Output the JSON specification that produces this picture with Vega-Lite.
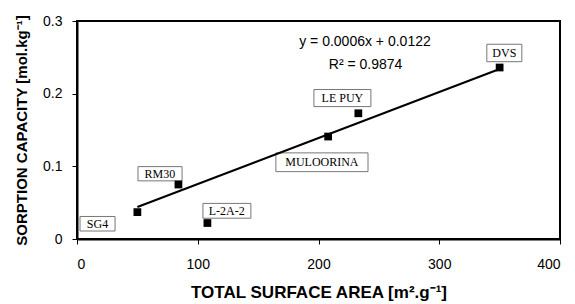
{
  "$schema": "https://vega.github.io/schema/vega-lite/v6.json",
  "width": 483,
  "height": 218,
  "autosize": "none",
  "padding": {"left": 77, "top": 21, "right": 15, "bottom": 65},
  "background": "white",
  "config": {
    "view": {"stroke": "black", "strokeWidth": 2},
    "axis": {
      "grid": false,
      "domainColor": "black",
      "domainWidth": 2,
      "tickColor": "black",
      "tickSize": 5,
      "labelFont": "Liberation Sans",
      "labelFontSize": 14,
      "labelColor": "black",
      "titleFont": "Liberation Sans",
      "titleFontWeight": "bold",
      "titleColor": "black"
    }
  },
  "datasets": {
    "points": [
      {"site": "SG4", "area": 50, "capacity": 0.037},
      {"site": "RM30", "area": 84, "capacity": 0.075},
      {"site": "L-2A-2", "area": 108, "capacity": 0.022},
      {"site": "MULOORINA", "area": 208, "capacity": 0.141},
      {"site": "LE PUY", "area": 233, "capacity": 0.173},
      {"site": "DVS", "area": 350, "capacity": 0.236}
    ],
    "labels": [
      {"site": "SG4", "x1": 2.5, "x2": 31.5, "y1": 0.011, "y2": 0.031, "lx": 17, "ly": 0.021},
      {"site": "RM30", "x1": 50.5, "x2": 87, "y1": 0.080, "y2": 0.0996, "lx": 68.7, "ly": 0.090},
      {"site": "L-2A-2", "x1": 104.3, "x2": 144, "y1": 0.0286, "y2": 0.049, "lx": 124, "ly": 0.039},
      {"site": "MULOORINA", "x1": 164.7, "x2": 241, "y1": 0.0927, "y2": 0.1185, "lx": 202.8, "ly": 0.1056},
      {"site": "LE PUY", "x1": 196.2, "x2": 243.4, "y1": 0.1822, "y2": 0.2057, "lx": 219.8, "ly": 0.194},
      {"site": "DVS", "x1": 339.4, "x2": 368.4, "y1": 0.244, "y2": 0.268, "lx": 353.9, "ly": 0.256}
    ],
    "trend": [
      {"area": 50, "capacity": 0.044},
      {"area": 350, "capacity": 0.234}
    ],
    "equation": [
      {"text": "y  =  0.0006x  +  0.0122", "x": 238.5, "y": 0.271},
      {"text": "R²  =  0.9874", "x": 239, "y": 0.240}
    ]
  },
  "layer": [
    {
      "data": {"name": "labels"},
      "mark": {"type": "rect", "fill": "white", "stroke": "#777777", "strokeWidth": 1},
      "encoding": {
        "x": {"field": "x1", "type": "quantitative", "scale": {"domain": [0, 400], "nice": false},
          "axis": {"values": [0, 100, 200, 300, 400], "labelPadding": 13, "title": "TOTAL SURFACE AREA [m².g⁻¹]", "titleFontSize": 17, "titleY": 53, "titleBaseline": "middle"}},
        "x2": {"field": "x2"},
        "y": {"field": "y1", "type": "quantitative", "scale": {"domain": [0, 0.3], "nice": false},
          "axis": {"values": [0, 0.1, 0.2, 0.3], "format": ".1~f", "labelPadding": 10, "title": "SORPTION CAPACITY [mol.kg⁻¹]", "titleFontSize": 15, "titleX": -56, "titleBaseline": "middle"}},
        "y2": {"field": "y2"}
      }
    },
    {
      "data": {"name": "labels"},
      "mark": {"type": "text", "font": "Liberation Serif", "fontSize": 12, "color": "black", "align": "center", "baseline": "middle"},
      "encoding": {
        "x": {"field": "lx", "type": "quantitative"},
        "y": {"field": "ly", "type": "quantitative"},
        "text": {"field": "site"}
      }
    },
    {
      "data": {"name": "trend"},
      "mark": {"type": "line", "color": "black", "strokeWidth": 2},
      "encoding": {
        "x": {"field": "area", "type": "quantitative"},
        "y": {"field": "capacity", "type": "quantitative"}
      }
    },
    {
      "data": {"name": "points"},
      "mark": {"type": "point", "shape": "square", "filled": true, "color": "black", "size": 60, "opacity": 1},
      "encoding": {
        "x": {"field": "area", "type": "quantitative"},
        "y": {"field": "capacity", "type": "quantitative"}
      }
    },
    {
      "data": {"name": "equation"},
      "mark": {"type": "text", "font": "Liberation Sans", "fontSize": 14, "color": "black", "align": "center", "baseline": "middle"},
      "encoding": {
        "x": {"field": "x", "type": "quantitative"},
        "y": {"field": "y", "type": "quantitative"},
        "text": {"field": "text"}
      }
    }
  ]
}
